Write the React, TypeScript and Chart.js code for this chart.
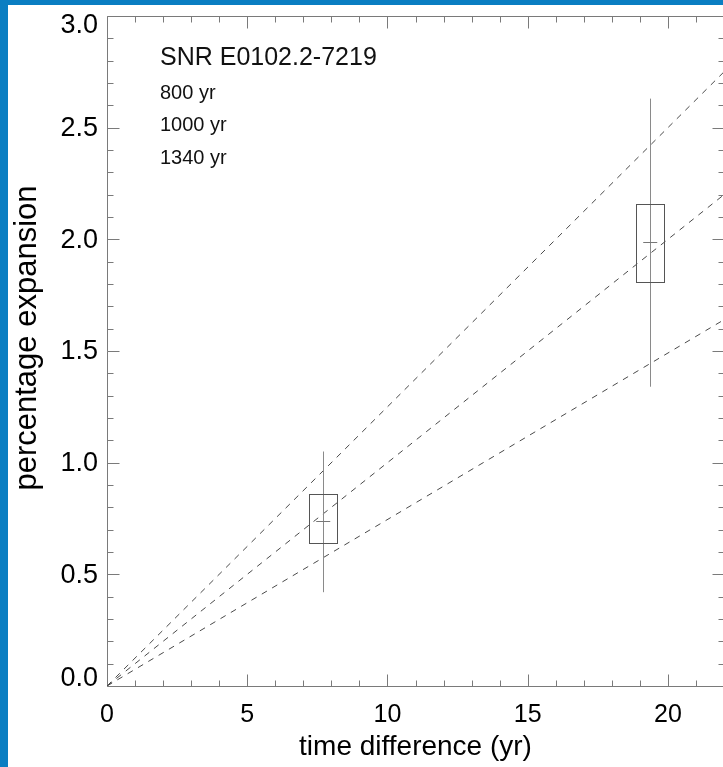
import React, { useEffect, useRef } from "react";
import { Chart, registerables } from "chart.js";

Chart.register(...registerables);

// ---- axes ----
const xRange = [0, 22];
const yRange = [0, 3];
const xMajorStep = 5;
const xMinorStep = 1;
const yMajorStep = 0.5;
const yMinorStep = 0.1;

// ---- model expansion lines (time, percentage) ----
const lineTimes = [0, 22];
const line800 = [0, 2.75];
const line1000 = [0, 2.2];
const line1340 = [0, 1.64];
const modelLabels = ["800 yr", "1000 yr", "1340 yr"];
const plotTitle = "SNR E0102.2-7219";
const xTitle = "time difference (yr)";
const yTitle = "percentage expansion";

// ---- measurements ----
const obsTimes = [7.71, 19.37];
const obsTimeErr = [0.5, 0.5];
const obsMedian = [0.74, 1.99];
const obsBoxLow = [0.64, 1.81];
const obsBoxHigh = [0.86, 2.16];
const obsLow = [0.42, 1.34];
const obsHigh = [1.05, 2.63];
const medianHalfWidth = 0.25;

const FONT = "'Liberation Sans', Arial, Helvetica, sans-serif";
const AXIS_COLOR = "#7a7a7a";

const framePlugin = {
  id: "frame",
  beforeDatasetsDraw(chart: any) {
    const { ctx, chartArea: a, scales } = chart;
    const xs = scales.x;
    const ys = scales.y;
    ctx.save();
    ctx.strokeStyle = AXIS_COLOR;
    ctx.lineWidth = 1;
    const L = Math.round(a.left) + 0.5;
    const R = Math.round(a.right) + 0.5;
    const T = Math.round(a.top) + 0.5;
    const B = Math.round(a.bottom) + 0.5;
    ctx.beginPath();
    ctx.moveTo(L, T);
    ctx.lineTo(R, T);
    ctx.lineTo(R, B);
    ctx.lineTo(L, B);
    ctx.closePath();
    ctx.stroke();
    ctx.beginPath();
    const nx = Math.round((xRange[1] - xRange[0]) / xMinorStep);
    for (let i = 0; i <= nx; i++) {
      const v = xRange[0] + i * xMinorStep;
      const major = Math.abs(v / xMajorStep - Math.round(v / xMajorStep)) < 1e-6;
      const len = major ? 12 : 6;
      const px = Math.round(xs.getPixelForValue(v)) + 0.5;
      ctx.moveTo(px, B);
      ctx.lineTo(px, B - len);
      ctx.moveTo(px, T);
      ctx.lineTo(px, T + len);
    }
    const ny = Math.round((yRange[1] - yRange[0]) / yMinorStep);
    for (let i = 0; i <= ny; i++) {
      const v = yRange[0] + i * yMinorStep;
      const major = Math.abs(v / yMajorStep - Math.round(v / yMajorStep)) < 1e-6;
      const len = major ? 12 : 6;
      const py = Math.round(ys.getPixelForValue(v)) + 0.5;
      ctx.moveTo(L, py);
      ctx.lineTo(L + len, py);
      ctx.moveTo(R, py);
      ctx.lineTo(R - len, py);
    }
    ctx.stroke();

    // y tick labels (end labels kept inside the frame, as in the original)
    ctx.fillStyle = "#000";
    ctx.font = `27px ${FONT}`;
    ctx.textAlign = "right";
    ctx.textBaseline = "middle";
    ys.ticks.forEach((t: any) => {
      let py = ys.getPixelForValue(t.value);
      py = Math.min(Math.max(py, a.top + 9), a.bottom - 8);
      ctx.fillText(Number(t.value).toFixed(1), a.left - 9, py + 1);
    });
    ctx.restore();
  },
  afterDatasetsDraw(chart: any) {
    const { ctx, chartArea: a, scales } = chart;
    const xs = scales.x;
    const ys = scales.y;
    ctx.save();
    ctx.lineWidth = 1;
    for (let i = 0; i < obsTimes.length; i++) {
      const cx = Math.round(xs.getPixelForValue(obsTimes[i])) + 0.5;
      const x0 = Math.round(xs.getPixelForValue(obsTimes[i] - obsTimeErr[i])) + 0.5;
      const x1 = Math.round(xs.getPixelForValue(obsTimes[i] + obsTimeErr[i])) + 0.5;
      const yTop = Math.round(ys.getPixelForValue(obsBoxHigh[i])) + 0.5;
      const yBot = Math.round(ys.getPixelForValue(obsBoxLow[i])) + 0.5;
      const wTop = ys.getPixelForValue(obsHigh[i]);
      const wBot = ys.getPixelForValue(obsLow[i]);
      const ym = Math.round(ys.getPixelForValue(obsMedian[i])) + 0.5;
      const m0 = xs.getPixelForValue(obsTimes[i] - medianHalfWidth);
      const m1 = xs.getPixelForValue(obsTimes[i] + medianHalfWidth);
      ctx.strokeStyle = "#8a8a8a";
      ctx.beginPath();
      ctx.moveTo(cx, wTop);
      ctx.lineTo(cx, wBot);
      ctx.stroke();
      ctx.strokeStyle = "#555";
      ctx.strokeRect(x0, yTop, x1 - x0, yBot - yTop);
      ctx.strokeStyle = "#777";
      ctx.beginPath();
      ctx.moveTo(m0, ym);
      ctx.lineTo(m1, ym);
      ctx.stroke();
    }
    // annotation text
    ctx.fillStyle = "#111";
    ctx.textAlign = "left";
    ctx.textBaseline = "alphabetic";
    const tx = a.left + 53;
    ctx.font = `25px ${FONT}`;
    ctx.fillText(plotTitle, tx, a.top + 49);
    ctx.font = `20px ${FONT}`;
    modelLabels.forEach((lab, k) => {
      ctx.fillText(lab, tx, a.top + 83 + k * 32.3);
    });
    // y axis title
    ctx.fillStyle = "#000";
    ctx.font = `31px ${FONT}`;
    ctx.textAlign = "center";
    ctx.textBaseline = "alphabetic";
    ctx.translate(a.left - 71, (a.top + a.bottom) / 2 - 13);
    ctx.rotate(-Math.PI / 2);
    ctx.fillText(yTitle, 0, 0);
    ctx.restore();
  },
};

export default function App() {
  const ref = useRef<HTMLCanvasElement>(null);
  useEffect(() => {
    const lines = [line800, line1000, line1340];
    const chart = new Chart(ref.current as HTMLCanvasElement, {
      type: "scatter",
      data: {
        datasets: lines.map((vals, k) => ({
          label: modelLabels[k],
          data: lineTimes.map((t, j) => ({ x: t, y: vals[j] })),
          showLine: true,
          borderColor: "#4a4a4a",
          borderWidth: 1,
          borderDash: [6, 6],
          pointRadius: 0,
          fill: false,
        })),
      },
      options: {
        animation: false,
        responsive: false,
        devicePixelRatio: 1,
        layout: { padding: { top: 11, right: 24, left: 0, bottom: 0 } },
        plugins: { legend: { display: false }, tooltip: { enabled: false } },
        scales: {
          x: {
            type: "linear",
            min: xRange[0],
            max: xRange[1],
            grid: { display: false, drawTicks: false },
            border: { display: false },
            ticks: {
              stepSize: xMajorStep,
              includeBounds: false,
              autoSkip: false,
              maxRotation: 0,
              padding: 14,
              color: "#000",
              font: { family: FONT, size: 25 },
            },
            title: {
              display: true,
              text: xTitle,
              color: "#000",
              font: { family: FONT, size: 28 },
              padding: { top: 0, bottom: 3 },
            },
            afterFit: (s: any) => {
              s.height = 81;
              s.paddingLeft = 0;
              s.paddingRight = 0;
            },
          },
          y: {
            type: "linear",
            min: yRange[0],
            max: yRange[1],
            grid: { display: false, drawTicks: false },
            border: { display: false },
            ticks: {
              display: false,
              stepSize: yMajorStep,
              autoSkip: false,
            },
            afterFit: (s: any) => {
              s.width = 99;
              s.paddingTop = 0;
              s.paddingBottom = 0;
            },
          },
        },
      },
      plugins: [framePlugin],
    } as any);
    return () => chart.destroy();
  }, []);

  return (
    <div
      style={{
        position: "fixed",
        left: 0,
        top: 0,
        width: 723,
        height: 767,
        overflow: "hidden",
        background: "#0A7EC2",
      }}
    >
      <div
        style={{
          position: "absolute",
          left: 8,
          top: 5,
          width: 740,
          height: 762,
          background: "#fff",
        }}
      >
        <canvas
          ref={ref}
          width={740}
          height={762}
          style={{ display: "block", width: 740, height: 762 }}
        />
      </div>
    </div>
  );
}
